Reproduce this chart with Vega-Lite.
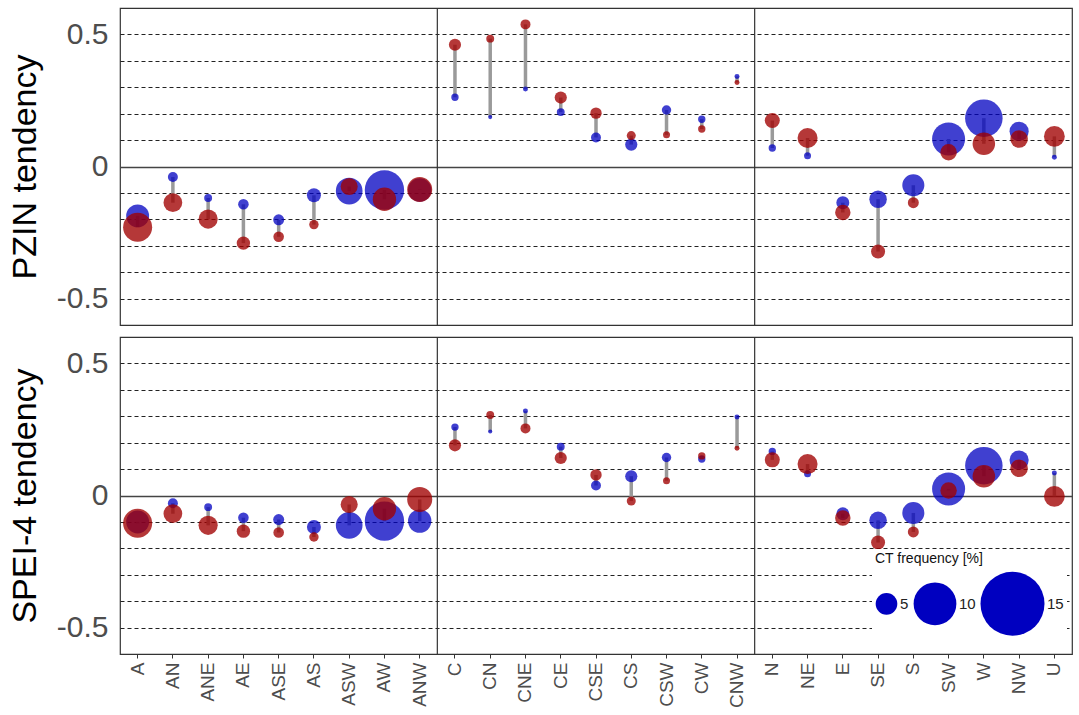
{
  "$schema": "https://vega.github.io/schema/vega-lite/v6.json",
  "padding": {"left": 7, "top": 6, "right": 7, "bottom": 3},
  "background": "white",
  "resolve": {"scale": {"size": "independent"}, "legend": {"size": "independent"}},
  "datasets": {
    "sep": [{"cat": "C"}, {"cat": "N"}],
    "pzin": [
      {"cat": "A", "b": -0.187, "r": -0.23, "fb": 5.3, "fr": 6.75},
      {"cat": "AN", "b": -0.04, "r": -0.137, "fb": 2.15, "fr": 4.3},
      {"cat": "ANE", "b": -0.119, "r": -0.199, "fb": 1.6, "fr": 4.4},
      {"cat": "AE", "b": -0.143, "r": -0.29, "fb": 2.3, "fr": 3.0},
      {"cat": "ASE", "b": -0.202, "r": -0.266, "fb": 2.4, "fr": 2.3},
      {"cat": "AS", "b": -0.109, "r": -0.22, "fb": 3.15, "fr": 2.0},
      {"cat": "ASW", "b": -0.093, "r": -0.076, "fb": 6.2, "fr": 3.9},
      {"cat": "AW", "b": -0.089, "r": -0.124, "fb": 9.2, "fr": 5.4},
      {"cat": "ANW", "b": -0.089, "r": -0.087, "fb": 5.4, "fr": 5.8},
      {"cat": "C", "b": 0.262, "r": 0.461, "fb": 1.45, "fr": 2.7},
      {"cat": "CN", "b": 0.187, "r": 0.484, "fb": 0.2, "fr": 1.6},
      {"cat": "CNE", "b": 0.293, "r": 0.538, "fb": 0.7, "fr": 2.15},
      {"cat": "CE", "b": 0.206, "r": 0.261, "fb": 1.6, "fr": 2.7},
      {"cat": "CSE", "b": 0.11, "r": 0.202, "fb": 2.15, "fr": 2.5},
      {"cat": "CS", "b": 0.083, "r": 0.117, "fb": 2.7, "fr": 1.9},
      {"cat": "CSW", "b": 0.214, "r": 0.12, "fb": 2.0, "fr": 1.35},
      {"cat": "CW", "b": 0.179, "r": 0.142, "fb": 1.45, "fr": 1.45},
      {"cat": "CNW", "b": 0.341, "r": 0.318, "fb": 0.7, "fr": 0.7},
      {"cat": "N", "b": 0.07, "r": 0.174, "fb": 1.45, "fr": 3.4},
      {"cat": "NE", "b": 0.041, "r": 0.108, "fb": 1.35, "fr": 4.6},
      {"cat": "E", "b": -0.137, "r": -0.174, "fb": 2.9, "fr": 3.5},
      {"cat": "SE", "b": -0.124, "r": -0.322, "fb": 4.0, "fr": 3.15},
      {"cat": "S", "b": -0.071, "r": -0.137, "fb": 5.1, "fr": 2.4},
      {"cat": "SW", "b": 0.104, "r": 0.054, "fb": 7.7, "fr": 3.75},
      {"cat": "W", "b": 0.183, "r": 0.086, "fb": 8.75, "fr": 5.2},
      {"cat": "NW", "b": 0.133, "r": 0.104, "fb": 4.4, "fr": 4.0},
      {"cat": "U", "b": 0.035, "r": 0.114, "fb": 0.7, "fr": 4.8}
    ],
    "spei": [
      {"cat": "A", "b": -0.1, "r": -0.105, "fb": 5.3, "fr": 6.75},
      {"cat": "AN", "b": -0.029, "r": -0.069, "fb": 2.15, "fr": 4.3},
      {"cat": "ANE", "b": -0.044, "r": -0.113, "fb": 1.6, "fr": 4.4},
      {"cat": "AE", "b": -0.084, "r": -0.135, "fb": 2.3, "fr": 3.0},
      {"cat": "ASE", "b": -0.091, "r": -0.14, "fb": 2.4, "fr": 2.3},
      {"cat": "AS", "b": -0.119, "r": -0.157, "fb": 3.15, "fr": 2.0},
      {"cat": "ASW", "b": -0.113, "r": -0.034, "fb": 6.2, "fr": 3.9},
      {"cat": "AW", "b": -0.097, "r": -0.05, "fb": 9.2, "fr": 5.4},
      {"cat": "ANW", "b": -0.097, "r": -0.015, "fb": 5.4, "fr": 5.8},
      {"cat": "C", "b": 0.259, "r": 0.19, "fb": 1.45, "fr": 2.7},
      {"cat": "CN", "b": 0.242, "r": 0.305, "fb": 0.2, "fr": 1.6},
      {"cat": "CNE", "b": 0.32, "r": 0.254, "fb": 0.7, "fr": 2.15},
      {"cat": "CE", "b": 0.185, "r": 0.142, "fb": 1.6, "fr": 2.7},
      {"cat": "CSE", "b": 0.038, "r": 0.078, "fb": 2.15, "fr": 2.5},
      {"cat": "CS", "b": 0.073, "r": -0.021, "fb": 2.7, "fr": 1.9},
      {"cat": "CSW", "b": 0.144, "r": 0.056, "fb": 2.0, "fr": 1.35},
      {"cat": "CW", "b": 0.138, "r": 0.15, "fb": 1.45, "fr": 1.45},
      {"cat": "CNW", "b": 0.297, "r": 0.179, "fb": 0.7, "fr": 0.7},
      {"cat": "N", "b": 0.167, "r": 0.135, "fb": 1.45, "fr": 3.4},
      {"cat": "NE", "b": 0.082, "r": 0.119, "fb": 1.35, "fr": 4.6},
      {"cat": "E", "b": -0.069, "r": -0.085, "fb": 2.9, "fr": 3.5},
      {"cat": "SE", "b": -0.094, "r": -0.178, "fb": 4.0, "fr": 3.15},
      {"cat": "S", "b": -0.066, "r": -0.138, "fb": 5.1, "fr": 2.4},
      {"cat": "SW", "b": 0.025, "r": 0.019, "fb": 7.7, "fr": 3.75},
      {"cat": "W", "b": 0.113, "r": 0.073, "fb": 8.75, "fr": 5.2},
      {"cat": "NW", "b": 0.134, "r": 0.103, "fb": 4.4, "fr": 4.0},
      {"cat": "U", "b": 0.085, "r": -0.003, "fb": 0.7, "fr": 4.8}
    ]
  },
  "spacing": 8,
  "vconcat": [
    {
      "width": 952,
      "height": 317,
      "layer": [
        {
          "data": {"name": "sep"},
          "mark": {"type": "rule", "color": "#333333", "strokeWidth": 1.2},
          "encoding": {
            "x": {"field": "cat", "type": "nominal", "bandPosition": 0, "axis": null,
              "scale": {"type": "band", "paddingInner": 0, "paddingOuter": 0, "domain": ["A","AN","ANE","AE","ASE","AS","ASW","AW","ANW","C","CN","CNE","CE","CSE","CS","CSW","CW","CNW","N","NE","E","SE","S","SW","W","NW","U"]}}
          }
        },
        {
          "data": {"name": "pzin"},
          "mark": {"type": "rule", "color": "#9a9a9a", "strokeWidth": 3.5},
          "encoding": {
            "x": {"field": "cat", "type": "nominal", "axis": null},
            "y": {"field": "b", "type": "quantitative", "title": "PZIN tendency",
              "scale": {"domain": [-0.6, 0.6], "nice": false, "zero": false},
              "axis": {"values": [-0.5, -0.4, -0.3, -0.2, -0.1, 0, 0.1, 0.2, 0.3, 0.4, 0.5]}},
            "y2": {"field": "r"}
          }
        },
        {
          "data": {"name": "pzin"},
          "mark": {"type": "circle", "color": "#0000c0", "opacity": 0.75},
          "encoding": {
            "x": {"field": "cat", "type": "nominal", "axis": null},
            "y": {"field": "b", "type": "quantitative", "title": "PZIN tendency",
              "axis": {"values": [-0.5, -0.4, -0.3, -0.2, -0.1, 0, 0.1, 0.2, 0.3, 0.4, 0.5]}},
            "size": {"field": "fb", "type": "quantitative", "legend": null,
              "scale": {"type": "pow", "exponent": 2, "domain": [0, 15], "range": [16, 4096], "zero": false}}
          }
        },
        {
          "data": {"name": "pzin"},
          "mark": {"type": "circle", "color": "#a00000", "opacity": 0.78},
          "encoding": {
            "x": {"field": "cat", "type": "nominal", "axis": null},
            "y": {"field": "r", "type": "quantitative", "title": "PZIN tendency",
              "axis": {"values": [-0.5, -0.4, -0.3, -0.2, -0.1, 0, 0.1, 0.2, 0.3, 0.4, 0.5]}},
            "size": {"field": "fr", "type": "quantitative", "legend": null}
          }
        }
      ]
    },
    {
      "width": 952,
      "height": 317,
      "layer": [
        {
          "data": {"name": "sep"},
          "mark": {"type": "rule", "color": "#333333", "strokeWidth": 1.2},
          "encoding": {
            "x": {"field": "cat", "type": "nominal", "bandPosition": 0,
              "scale": {"type": "band", "paddingInner": 0, "paddingOuter": 0, "domain": ["A","AN","ANE","AE","ASE","AS","ASW","AW","ANW","C","CN","CNE","CE","CSE","CS","CSW","CW","CNW","N","NE","E","SE","S","SW","W","NW","U"]},
              "axis": {"title": null, "labelAngle": -90, "labelFontSize": 19, "labelColor": "#4d4d4d", "ticks": true, "tickColor": "#333333", "tickSize": 4, "domain": false, "grid": false, "labelPadding": 4}}
          }
        },
        {
          "data": {"name": "spei"},
          "mark": {"type": "rule", "color": "#9a9a9a", "strokeWidth": 3.5},
          "encoding": {
            "x": {"field": "cat", "type": "nominal"},
            "y": {"field": "b", "type": "quantitative", "title": "SPEI-4 tendency",
              "scale": {"domain": [-0.6, 0.6], "nice": false, "zero": false},
              "axis": {"values": [-0.5, -0.4, -0.3, -0.2, -0.1, 0, 0.1, 0.2, 0.3, 0.4, 0.5]}},
            "y2": {"field": "r"}
          }
        },
        {
          "data": {"name": "spei"},
          "mark": {"type": "circle", "color": "#0000c0", "opacity": 0.75},
          "encoding": {
            "x": {"field": "cat", "type": "nominal"},
            "y": {"field": "b", "type": "quantitative", "title": "SPEI-4 tendency",
              "axis": {"values": [-0.5, -0.4, -0.3, -0.2, -0.1, 0, 0.1, 0.2, 0.3, 0.4, 0.5]}},
            "size": {"field": "fb", "type": "quantitative", "title": "CT frequency [%]",
              "scale": {"type": "pow", "exponent": 2, "domain": [0, 15], "range": [16, 4096], "zero": false},
              "legend": {
                "orient": "none", "legendX": 752, "legendY": 212,
                "values": [5, 10, 15],
                "direction": "horizontal",
                "columnPadding": 2,
                "padding": 3,
                "fillColor": "white",
                "titleFontSize": 14, "titleFontWeight": "normal", "titleColor": "#111111",
                "titlePadding": 5,
                "labelFontSize": 15, "labelColor": "#222222", "labelOffset": 2,
                "symbolType": "circle",
                "symbolFillColor": "transparent",
                "symbolStrokeColor": "#111111",
                "symbolStrokeWidth": 1,
                "symbolOpacity": 1,
                "encode": {"symbols": {"fill": {"value": "transparent"}, "stroke": {"value": "#111111"}, "strokeWidth": {"value": 1}, "opacity": {"value": 1}}}
              }}
          }
        },
        {
          "data": {"name": "spei"},
          "mark": {"type": "circle", "color": "#a00000", "opacity": 0.78},
          "encoding": {
            "x": {"field": "cat", "type": "nominal"},
            "y": {"field": "r", "type": "quantitative", "title": "SPEI-4 tendency",
              "axis": {"values": [-0.5, -0.4, -0.3, -0.2, -0.1, 0, 0.1, 0.2, 0.3, 0.4, 0.5]}},
            "size": {"field": "fr", "type": "quantitative", "title": "CT frequency [%]",
              "legend": {
                "orient": "none", "legendX": 752, "legendY": 212,
                "values": [5, 10, 15],
                "direction": "horizontal",
                "columnPadding": 2,
                "padding": 3,
                "fillColor": "white",
                "titleFontSize": 14, "titleFontWeight": "normal", "titleColor": "#111111",
                "titlePadding": 5,
                "labelFontSize": 15, "labelColor": "#222222", "labelOffset": 2,
                "symbolType": "circle",
                "symbolFillColor": "transparent",
                "symbolStrokeColor": "#111111",
                "symbolStrokeWidth": 1,
                "symbolOpacity": 1,
                "encode": {"symbols": {"fill": {"value": "transparent"}, "stroke": {"value": "#111111"}, "strokeWidth": {"value": 1}, "opacity": {"value": 1}}}
              }}
          }
        }
      ]
    }
  ],
  "config": {
    "font": "Liberation Sans",
    "view": {"stroke": "#333333", "strokeWidth": 1.2},
    "axisY": {
      "labelExpr": "datum.value == 0.5 ? '0.5' : datum.value == -0.5 ? '-0.5' : datum.value == 0 ? '0' : ''",
      "grid": true,
      "gridColor": {"condition": {"test": "datum.value == 0", "value": "#444444"}, "value": "#222222"},
      "gridDash": {"condition": {"test": "datum.value == 0", "value": [1, 0]}, "value": [4, 3]},
      "gridWidth": {"condition": {"test": "datum.value == 0", "value": 1.5}, "value": 1},
      "ticks": false,
      "domain": false,
      "labelFontSize": 30,
      "labelColor": "#4d4d4d",
      "labelPadding": 12,
      "titleFontSize": 34,
      "titleFontWeight": "normal",
      "titleColor": "#000000",
      "titlePadding": 14
    }
  }
}
